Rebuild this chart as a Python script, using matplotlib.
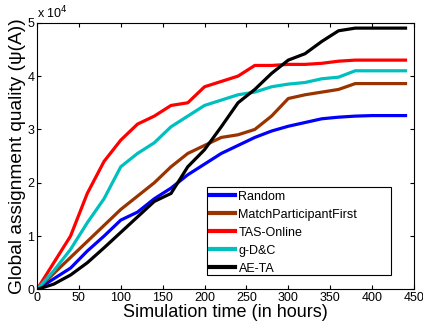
import numpy as np
import matplotlib
matplotlib.use("Agg")
import matplotlib.pyplot as plt
from matplotlib.patches import Rectangle

plt.rcParams['font.family'] = ['Liberation Sans', 'DejaVu Sans']

# simulation time (hours), one sample every 20 h
hours = [0, 20, 40, 60, 80, 100, 120, 140, 160, 180, 200, 220,
         240, 260, 280, 300, 320, 340, 360, 380, 400, 420, 440]

# global assignment quality, in units of 1e4
random_q = [0, 0.2, 0.4, 0.72, 1.0, 1.3, 1.45, 1.7, 1.9, 2.15, 2.35, 2.55,
            2.7, 2.85, 2.97, 3.06, 3.13, 3.2, 3.23, 3.25, 3.26, 3.26, 3.26]
mpf_q = [0, 0.3, 0.6, 0.9, 1.2, 1.5, 1.75, 2.0, 2.3, 2.55, 2.7, 2.85,
         2.9, 3.0, 3.25, 3.58, 3.65, 3.7, 3.75, 3.86, 3.86, 3.86, 3.86]
tas_q = [0, 0.5, 1.0, 1.8, 2.4, 2.8, 3.1, 3.25, 3.45, 3.5, 3.8, 3.9,
         4.0, 4.2, 4.2, 4.22, 4.22, 4.24, 4.28, 4.3, 4.3, 4.3, 4.3]
gdc_q = [0, 0.35, 0.75, 1.25, 1.7, 2.3, 2.55, 2.75, 3.05, 3.25, 3.45, 3.55,
         3.65, 3.7, 3.8, 3.85, 3.88, 3.95, 3.98, 4.1, 4.1, 4.1, 4.1]
aeta_q = [0, 0.1, 0.27, 0.5, 0.78, 1.07, 1.36, 1.65, 1.8, 2.3, 2.62, 3.05,
          3.5, 3.75, 4.05, 4.3, 4.42, 4.65, 4.85, 4.9, 4.9, 4.9, 4.9]

series = [
    ("Random", random_q, (0, 0, 1)),
    ("MatchParticipantFirst", mpf_q, (0.6, 0.2, 0)),
    ("TAS-Online", tas_q, (1, 0, 0)),
    ("g-D&C", gdc_q, (0, 0.75, 0.75)),
    ("AE-TA", aeta_q, (0, 0, 0)),
]

fig = plt.figure(figsize=(4.23, 3.35), dpi=100)
ax = fig.add_axes([0.0875, 0.136, 0.891, 0.796])

for name, vals, col in series:
    ax.plot(hours, vals, color=col, lw=2.3, label=name)

ax.set_xlim(0, 450)
ax.set_ylim(0, 5)
ax.set_xticks(np.arange(0, 451, 50))
ax.set_yticks(np.arange(0, 6, 1))
ax.tick_params(direction='in', top=True, right=True, labelsize=9, length=3, pad=2)
ax.text(0, 1.005, r'x 10$^4$', transform=ax.transAxes, fontsize=9, va='bottom', ha='left')

ax.set_xlabel('Simulation time (in hours)', fontsize=13, labelpad=0)
ax.set_ylabel('Global assignment quality (\u03c8(A))', fontsize=13.8, labelpad=1)

# MATLAB-style legend box: wider than its contents
ax.add_patch(Rectangle((0.45, 0.054), 0.489, 0.33, transform=ax.transAxes,
                       facecolor='white', edgecolor='black', lw=0.8, zorder=4))
leg = ax.legend(loc='upper left', bbox_to_anchor=(0.45, 0.384), borderaxespad=0,
                fontsize=9, handlelength=2.0, handletextpad=0.25, labelspacing=0.48,
                frameon=False, borderpad=0.3)
leg.set_zorder(5)
for h in leg.get_lines():
    h.set_linewidth(3)

fig.savefig('out.png', dpi=100)
